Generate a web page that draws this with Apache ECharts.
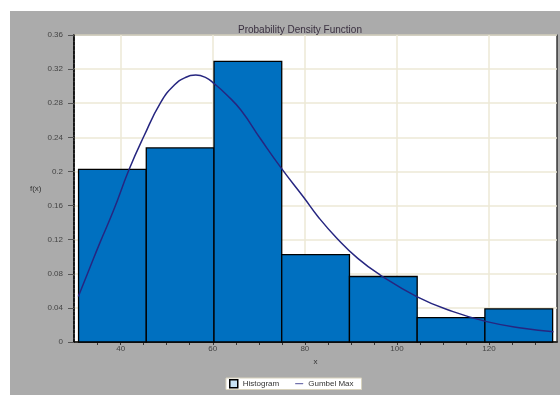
<!DOCTYPE html>
<html>
<head>
<meta charset="utf-8">
<script src="https://cdn.jsdelivr.net/npm/echarts@6/dist/echarts.min.js"></script>
<style>html,body{margin:0;padding:0;background:#fff;}#c{width:560px;height:395px;}</style>
</head>
<body>
<div id="c"></div>
<script>
// Histogram bins (x edges) and heights
const binEdges = [30.85, 45.56, 60.27, 74.98, 89.69, 104.40, 119.11, 133.82];
const binHeights = [0.2024, 0.2276, 0.329, 0.1024, 0.0768, 0.0286, 0.0388];
// Gumbel Max curve
const curveX = [30.8, 33.0, 35.5, 38.5, 41.8, 45.06, 48.7, 51.6, 54.0, 56.3, 58.5, 60.3, 63.0, 66.1, 70.4, 75.0, 79.7, 83.0, 86.9, 91.5, 96.3, 104.3, 112.2, 119.5, 127.4, 134.0];
const curveY = [0.0533, 0.083, 0.1165, 0.155, 0.202, 0.2415, 0.281, 0.301, 0.310, 0.313, 0.310, 0.303, 0.290, 0.272, 0.238, 0.203, 0.170, 0.146, 0.122, 0.098, 0.0788, 0.0533, 0.0356, 0.0239, 0.0161, 0.0121];
// Tick labels
const xLabels = [40, 60, 80, 100, 120];
const xMinorTicks = [35, 40, 45, 50, 55, 60, 65, 70, 75, 80, 85, 90, 95, 100, 105, 110, 115, 120, 125, 130];
const yLabels = ['0', '0.04', '0.08', '0.12', '0.16', '0.2', '0.24', '0.28', '0.32', '0.36'];

const histData = binHeights.map((h, i) => [binEdges[i], binEdges[i + 1], h]);
const lineData = curveX.map((x, i) => [x, curveY[i]]);

const chart = echarts.init(document.getElementById('c'), null, {renderer: 'canvas'});
const xMin = 29.86, xMax = 134.77;
const font = 'Arial, "Liberation Sans", sans-serif';
chart.setOption({
  animation: false,
  backgroundColor: '#ffffff',
  graphic: [{
    type: 'rect', z: -10, silent: true,
    shape: {x: 10, y: 11, width: 550, height: 384},
    style: {fill: '#ababab'}
  }],
  title: {
    text: 'Probability Density Function',
    left: 233, top: 20,
    textStyle: {fontSize: 10, fontWeight: 'normal', color: '#3a3040', fontFamily: font}
  },
  legend: {
    left: 226, top: 378,
    backgroundColor: '#ffffff', borderColor: '#d8d2bc', borderWidth: 1,
    padding: [1, 8, 1, 3], itemGap: 16, itemWidth: 8, itemHeight: 8,
    textStyle: {fontSize: 8, color: '#333', fontFamily: font},
    data: [
      {name: 'Histogram', icon: 'rect', itemStyle: {color: '#c9e3f5', borderColor: '#000', borderWidth: 1.5}},
      {name: 'Gumbel Max', icon: 'path://M0,4 L10,4 L10,5 L0,5 Z', itemStyle: {color: '#262680'}}
    ]
  },
  grid: {
    left: 74, right: 3, top: 35, bottom: 53,
    show: true, backgroundColor: '#ffffff', borderColor: '#111', borderWidth: 1.2
  },
  xAxis: [{
    type: 'value', min: xMin, max: xMax,
    name: 'x', nameLocation: 'middle', nameGap: 13,
    nameTextStyle: {fontSize: 8, color: '#333', fontFamily: font},
    axisLine: {show: true, lineStyle: {color: '#000', width: 1.5}},
    axisTick: {show: true, customValues: xMinorTicks, length: 3, lineStyle: {color: '#333'}},
    axisLabel: {show: true, customValues: xLabels, fontSize: 8, color: '#444', margin: 3, fontFamily: font},
    splitLine: {show: false}
  }, {
    type: 'value', min: xMin, max: xMax, position: 'bottom',
    axisLine: {show: false},
    axisTick: {show: false, customValues: xLabels},
    axisLabel: {show: false, customValues: xLabels},
    splitLine: {show: true, lineStyle: {color: '#ece8d6', width: 1.5}}
  }],
  yAxis: {
    type: 'value', min: 0, max: 0.36, interval: 0.04,
    name: 'f(x)', nameLocation: 'middle', nameRotate: 0, nameGap: 30,
    nameTextStyle: {fontSize: 8, color: '#333', fontFamily: font},
    axisLine: {show: true, lineStyle: {color: '#000', width: 1.5, type: [3, 1.5]}},
    axisTick: {show: true, length: 6, lineStyle: {color: '#555'}},
    axisLabel: {fontSize: 8, color: '#444', margin: 11, fontFamily: font,
      formatter: (v, i) => yLabels[i]},
    splitLine: {show: true, lineStyle: {color: '#ece8d6', width: 1.5}}
  },
  series: [{
    name: 'Histogram', type: 'custom', xAxisIndex: 0,
    encode: {x: [0, 1], y: 2},
    data: histData,
    renderItem: function (params, api) {
      const s = api.coord([api.value(0), api.value(2)]);
      const e = api.coord([api.value(1), 0]);
      return {
        type: 'rect',
        shape: {x: s[0], y: s[1], width: e[0] - s[0], height: e[1] - s[1]},
        style: {fill: '#0070c0', stroke: '#000', lineWidth: 1.3}
      };
    },
    itemStyle: {color: '#c9e3f5'}
  }, {
    name: 'Gumbel Max', type: 'line', xAxisIndex: 0,
    data: lineData, smooth: 0.5, showSymbol: false, symbol: 'none',
    lineStyle: {color: '#262680', width: 1.5},
    itemStyle: {color: '#262680'}
  }]
});
</script>
</body>
</html>
